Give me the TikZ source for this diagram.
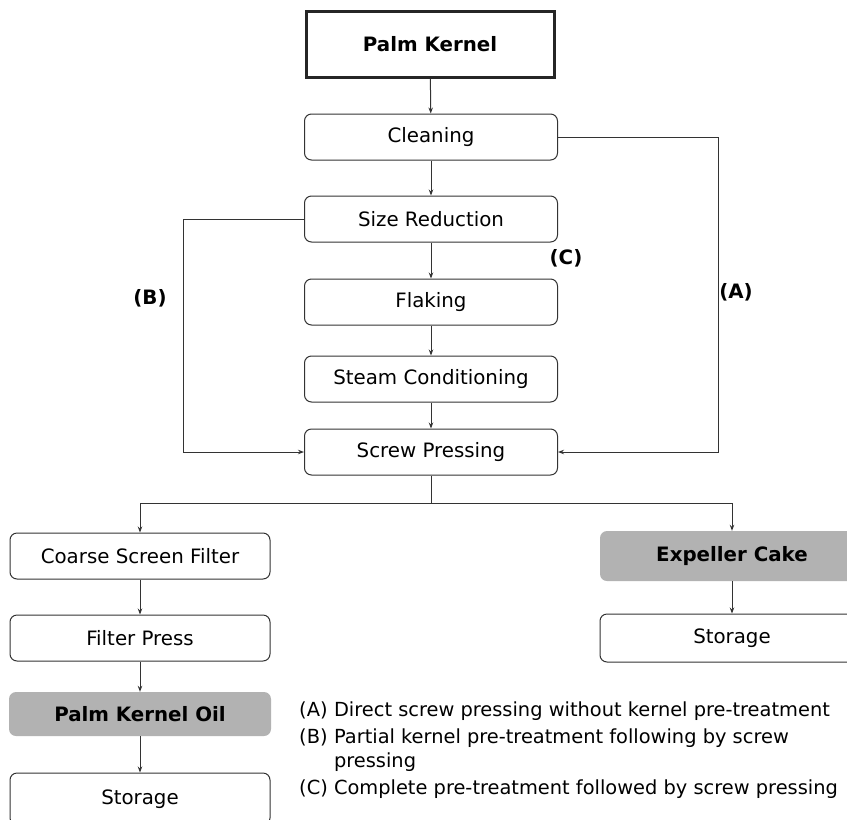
\documentclass[tikz,border=0pt]{standalone}
\usepackage{fontspec}
\setmainfont{DejaVu Sans}
\usetikzlibrary{arrows.meta}
\begin{document}
\begin{tikzpicture}[x=1pt,y=-1pt,
  every node/.style={font=\fontsize{19.8}{24}\selectfont},
  stage/.style={draw=black!80, line width=1pt, rounded corners=7pt,
    minimum width=253pt, minimum height=46pt, inner sep=0pt},
  product/.style={fill=black!30, rounded corners=7pt,
    minimum width=262pt, minimum height=46pt, inner sep=0pt,
    font=\fontsize{19.8}{24}\selectfont\bfseries},
  feed/.style={draw=black!85, line width=3pt,
    minimum width=248pt, minimum height=66pt, inner sep=0pt,
    font=\fontsize{19.8}{24}\selectfont\bfseries},
  route/.style={font=\fontsize{19.8}{24}\selectfont\bfseries},
  notes/.style={font=\fontsize{19.4}{24}\selectfont},
  link/.style={draw=black!80, line width=1pt},
  arr/.style={link, -{Stealth[length=6pt,width=4.5pt]}}]
\useasboundingbox (0,0) rectangle (847,820);

% main pre-treatment line
\node[feed]  (pk)    at (430,44)  {Palm Kernel};
\node[stage] (clean) at (431,137) {Cleaning};
\node[stage] (size)  at (431,219) {Size Reduction};
\node[stage] (flak)  at (431,302) {Flaking};
\node[stage] (steam) at (431,379) {Steam Conditioning};
\node[stage] (screw) at (431,452) {Screw Pressing};

% oil side
\node[stage, minimum width=260pt] (coarse) at (140,556) {Coarse Screen Filter};
\node[stage, minimum width=260pt] (fpress) at (140,638) {Filter Press};
\node[product, minimum height=44pt] (pko) at (140,714) {Palm Kernel Oil};
\node[stage, minimum width=260pt, minimum height=52pt] (storeL) at (140,799) {Storage};

% cake side
\node[product, minimum width=264pt, minimum height=50pt] (cake) at (732,556) {Expeller Cake};
\node[stage, minimum width=264pt, minimum height=48pt] (storeR) at (732,638) {Storage};

% route labels
\node[route] (labC) at (566,258) {(C)};
\node[route] (labA) at (736,292) {(A)};
\node[route] (labB) at (150,298) {(B)};

% legend
\node[notes, anchor=base west, inner sep=0pt] (legend) at (299,716)
  {\begin{tabular}[t]{@{}l@{\ }l@{}}
   (A) & Direct screw pressing without kernel pre-treatment\\[3pt]
   (B) & Partial kernel pre-treatment following by screw\\
       & pressing\\[3pt]
   (C) & Complete pre-treatment followed by screw pressing
   \end{tabular}};

% straight-through connectors
\draw[arr] (pk) -- (clean);
\draw[arr] (clean) -- (size);
\draw[arr] (size) -- (flak);
\draw[arr] (flak) -- (steam);
\draw[arr] (steam) -- (screw);

% bypass routes
\coordinate (aTurn) at (718,137);
\draw[arr] (clean.east) -- (aTurn) |- (screw.east);
\coordinate (bTurn) at (183,219);
\draw[arr] (size.west) -- (bTurn) |- (screw.west);

% split after pressing
\coordinate (split) at (431,503);
\draw[link] (screw.south) -- (split);
\draw[arr] (split) -| (coarse.north);
\draw[arr] (split) -| (cake.north);

\draw[arr] (coarse) -- (fpress);
\draw[arr] (fpress) -- (pko);
\draw[arr] (pko) -- (storeL);
\draw[arr] (cake) -- (storeR);
\end{tikzpicture}
\end{document}
